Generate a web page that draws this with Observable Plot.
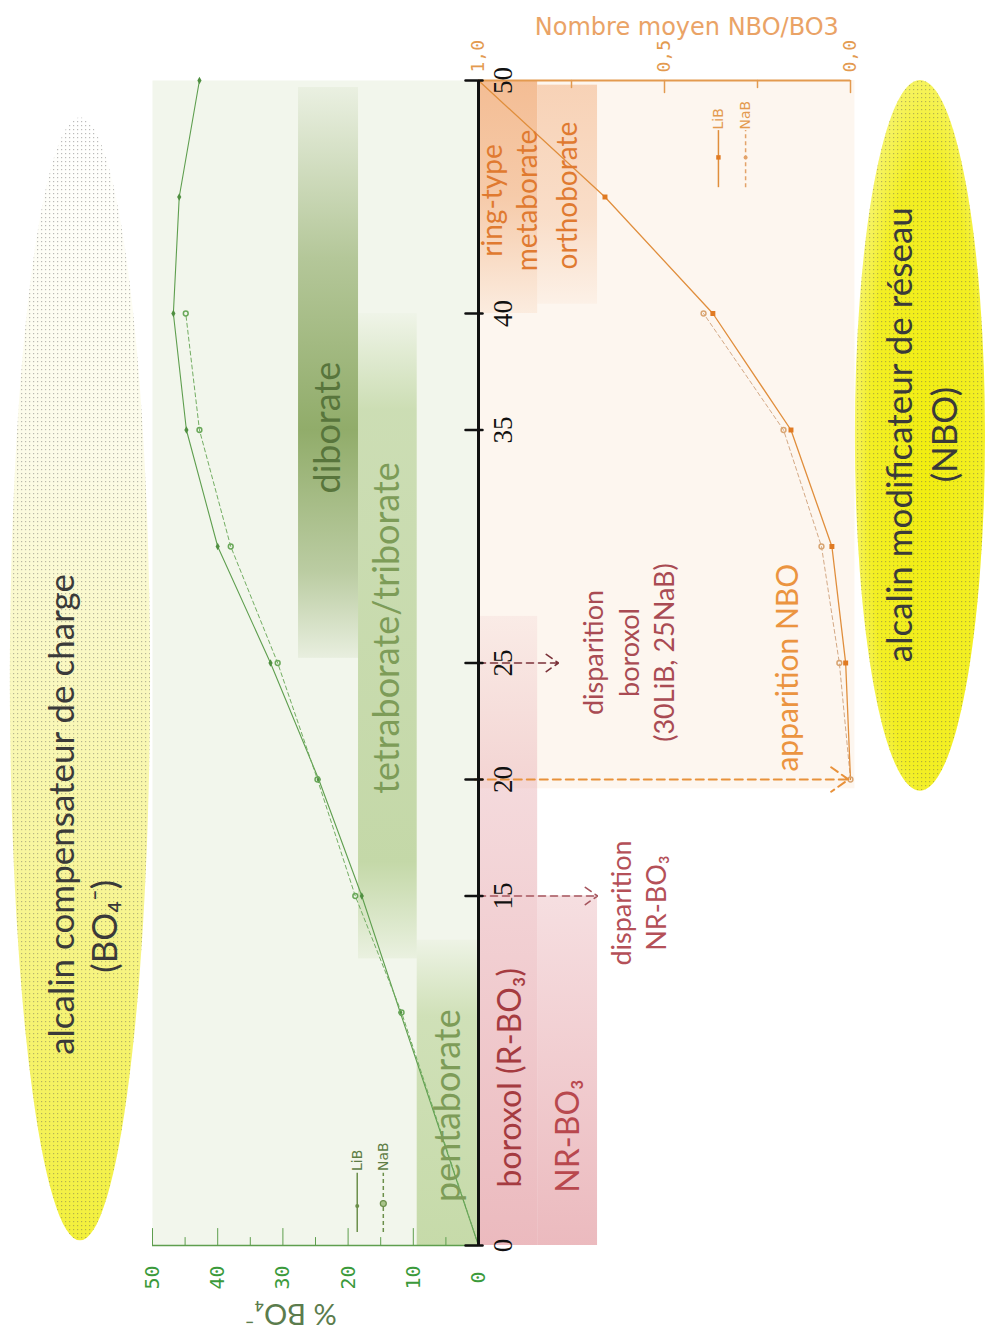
<!DOCTYPE html>
<html><head><meta charset="utf-8">
<script src="https://cdn.jsdelivr.net/npm/d3@7"></script>
<script src="https://cdn.jsdelivr.net/npm/@observablehq/plot@0.6"></script>
<style>
html,body{margin:0;padding:0;background:#fff;}
#wrap{position:relative;width:986px;height:1336px;overflow:hidden;background:#fff;}
#wrap > svg{position:absolute;left:0;top:0;}
</style></head><body>
<svg width="0" height="0" style="position:absolute;left:0;top:0">
<defs>
 <linearGradient id="gEllL" x1="0" y1="0" x2="0" y2="1">
   <stop offset="0" stop-color="#ffffff"/>
   <stop offset="0.3" stop-color="#fcfbe8"/>
   <stop offset="0.65" stop-color="#f8f6a0"/>
   <stop offset="1" stop-color="#f3f03a"/>
 </linearGradient>
 <radialGradient id="gEllR" cx="0.55" cy="0.55" r="0.62">
   <stop offset="0" stop-color="#f2ee10"/>
   <stop offset="0.7" stop-color="#f3ef24"/>
   <stop offset="1" stop-color="#f8f680"/>
 </radialGradient>
 <pattern id="dots" width="4" height="4" patternUnits="userSpaceOnUse">
   <rect x="1" y="1" width="1.2" height="1.2" fill="#555" fill-opacity="0.4"/>
 </pattern>
 <linearGradient id="gDi" x1="0" y1="0" x2="0" y2="1">
   <stop offset="0" stop-color="#8eaa66" stop-opacity="0.08"/>
   <stop offset="0.3" stop-color="#8eaa66" stop-opacity="0.62"/>
   <stop offset="0.6" stop-color="#8eaa66" stop-opacity="0.97"/>
   <stop offset="0.85" stop-color="#8eaa66" stop-opacity="0.55"/>
   <stop offset="1" stop-color="#8eaa66" stop-opacity="0.1"/>
 </linearGradient>
 <linearGradient id="gTet" x1="0" y1="0" x2="0" y2="1">
   <stop offset="0" stop-color="#bcd39c" stop-opacity="0.05"/>
   <stop offset="0.15" stop-color="#bcd39c" stop-opacity="0.7"/>
   <stop offset="0.85" stop-color="#bcd39c" stop-opacity="0.85"/>
   <stop offset="1" stop-color="#bcd39c" stop-opacity="0.15"/>
 </linearGradient>
 <linearGradient id="gPen" x1="0" y1="0" x2="0" y2="1">
   <stop offset="0" stop-color="#c4d9a6" stop-opacity="0.1"/>
   <stop offset="0.25" stop-color="#c4d9a6" stop-opacity="0.75"/>
   <stop offset="1" stop-color="#c4d9a6" stop-opacity="0.95"/>
 </linearGradient>
 <linearGradient id="gMeta" x1="0" y1="0" x2="0" y2="1">
   <stop offset="0" stop-color="#f2b384" stop-opacity="0.85"/>
   <stop offset="0.5" stop-color="#f2b384" stop-opacity="0.65"/>
   <stop offset="1" stop-color="#f2b384" stop-opacity="0.15"/>
 </linearGradient>
 <linearGradient id="gOrtho" x1="0" y1="0" x2="0" y2="1">
   <stop offset="0" stop-color="#f6c9a8" stop-opacity="0.8"/>
   <stop offset="0.6" stop-color="#f6c9a8" stop-opacity="0.55"/>
   <stop offset="1" stop-color="#f6c9a8" stop-opacity="0.12"/>
 </linearGradient>
 <linearGradient id="gBorox" x1="0" y1="0" x2="0" y2="1">
   <stop offset="0" stop-color="#e8aeb3" stop-opacity="0.15"/>
   <stop offset="0.25" stop-color="#e8aeb3" stop-opacity="0.45"/>
   <stop offset="1" stop-color="#e8aeb3" stop-opacity="0.85"/>
 </linearGradient>
 <linearGradient id="gNR" x1="0" y1="0" x2="0" y2="1">
   <stop offset="0" stop-color="#e8aeb3" stop-opacity="0.4"/>
   <stop offset="1" stop-color="#e8aeb3" stop-opacity="0.85"/>
 </linearGradient>
</defs>
</svg>
<div id="wrap"></div>
<script>
// ---------------- data ----------------
// % BO4- versus mol% alkali oxide
const molLiB = [0, 10, 15, 20, 25, 30, 35, 40, 45, 50];
const bo4LiB = [0, 12.0, 17.9, 24.5, 31.9, 40.0, 44.8, 46.8, 45.9, 42.8];
const molNaB = [0, 10, 15, 20, 25, 30, 35, 40];
const bo4NaB = [0, 11.8, 18.9, 24.7, 30.8, 38.0, 42.8, 44.9];

// mean number of NBO per BO3 versus mol% alkali oxide
const nboMolLiB = [20, 25, 30, 35, 40, 45, 50];
const nboLiB = [0.0, 0.013, 0.05, 0.16, 0.37, 0.66, 1.0];
const nboMolNaB = [20, 25, 30, 35, 40];
const nboNaB = [0.0, 0.03, 0.078, 0.18, 0.395];

// ticks
const molTicks = [0, 15, 20, 25, 35, 40, 50];
const bo4MajorTicks = [0, 10, 20, 30, 40, 50];
const bo4MinorTicks = [5, 15, 25, 35, 45];
const nboMajorTicks = [0, 0.5, 1];
const nboMinorTicks = [0.25, 0.75];
const nboTickLabels = [1, 0.5, 0];

// structural-unit domains (mol% ranges)
const greenUnits = ["diborate", "tetraborate/triborate", "pentaborate"];
const greenMolStart = [25.2, 12.3, 0];
const greenMolEnd = [49.7, 40.0, 13.1];
const orangeUnits = ["ring-type metaborate", "orthoborate"];
const orangeMolStart = [40, 40.4];
const orangeMolEnd = [50, 49.8];
const pinkUnits = ["boroxol (R-BO₃)", "NR-BO₃"];
const pinkMolStart = [0, 0];
const pinkMolEnd = [27, 15];

// transitions (mol%)
const arrowMol = [25, 15, 20];
const arrowNames = ["disparition boroxol", "disparition NR-BO₃", "apparition NBO"];

// ---------------- build ----------------
const libBO4 = molLiB.map((m, i) => ({mol: m, v: bo4LiB[i]}));
const nabBO4 = molNaB.map((m, i) => ({mol: m, v: bo4NaB[i]}));
const libNBO = nboMolLiB.map((m, i) => ({mol: m, v: nboLiB[i]}));
const nabNBO = nboMolNaB.map((m, i) => ({mol: m, v: nboNaB[i]}));

const green = "#5e9e4e";
const orange = "#e39a4f";
const labelFont = "Lato";

const greenCols = [[27.6, 18.4], [18.4, 9.4], [9.4, 0]];
const greenFills = ["url(#gDi)", "url(#gTet)", "url(#gPen)"];
const orangeCols = [[1, 0.841], [0.841, 0.68]];
const orangeFills = ["url(#gMeta)", "url(#gOrtho)"];
const pinkCols = [[1, 0.841], [0.841, 0.68]];
const pinkFills = ["url(#gBorox)", "url(#gNR)"];

// tick shapes for Plot.vector
const tickUp = {draw(c, l) { c.moveTo(0, 0); c.lineTo(0, -l); }};
const tickDown = {draw(c, l) { c.moveTo(0, 0); c.lineTo(0, l); }};
const tickLeft = {draw(c, l) { c.moveTo(4, 0); c.lineTo(-l, 0); }};

const common = {
  width: 986, height: 1336, marginTop: 80, marginBottom: 91,
  y: {domain: [0, 50], axis: null},
  style: {background: "transparent", overflow: "visible"}
};

const greenBandMarks = greenUnits.map((u, i) => Plot.rect([u], {
  x1: greenCols[i][0], x2: greenCols[i][1], y1: greenMolStart[i], y2: greenMolEnd[i], fill: greenFills[i]
}));
const orangeBandMarks = orangeUnits.map((u, i) => Plot.rect([u], {
  x1: orangeCols[i][0], x2: orangeCols[i][1], y1: orangeMolStart[i], y2: orangeMolEnd[i], fill: orangeFills[i]
}));
const pinkBandMarks = pinkUnits.map((u, i) => Plot.rect([u], {
  x1: pinkCols[i][0], x2: pinkCols[i][1], y1: pinkMolStart[i], y2: pinkMolEnd[i], fill: pinkFills[i]
}));

const lbl = (t, o) => Plot.text([t], {text: d => d, rotate: -90, textAnchor: "middle", lineAnchor: "middle", fontFamily: labelFont, ...o});

const plotA = Plot.plot({
  ...common,
  marginLeft: 152, marginRight: 508,
  x: {domain: [50, 0], axis: null},
  marks: [
    Plot.rect(["BO4 ellipse"], {x1: 71.8, x2: 50.3, y1: 0.2, y2: 48.4, fill: "url(#gEllL)", rx: 1000, ry: 1000}),
    Plot.rect(["BO4 ellipse"], {x1: 71.8, x2: 50.3, y1: 0.2, y2: 48.4, fill: "url(#dots)", rx: 1000, ry: 1000}),
    Plot.frame({fill: "#f2f6ec", stroke: "none"}),
    greenBandMarks,
    Plot.line(libBO4, {x: "v", y: "mol", stroke: green, strokeWidth: 1.1}),
    Plot.line(nabBO4, {x: "v", y: "mol", stroke: "#72ad62", strokeWidth: 1, strokeDasharray: "4,3"}),
    Plot.dot(libBO4.filter(d => d.mol > 0), {x: "v", y: "mol", r: 2.2, symbol: "diamond", fill: "#4f8f40"}),
    Plot.dot(nabBO4.filter(d => d.mol > 0), {x: "v", y: "mol", r: 2.4, stroke: "#6aa85a", fill: "none"}),
    // % BO4 axis (bottom)
    Plot.ruleY([0], {stroke: green, strokeWidth: 1.5}),
    Plot.vector(bo4MajorTicks, {x: d => d, frameAnchor: "bottom", length: 17, anchor: "start", shape: tickUp, stroke: green, strokeWidth: 1}),
    Plot.vector(bo4MinorTicks, {x: d => d, frameAnchor: "bottom", length: 8, anchor: "start", shape: tickUp, stroke: green, strokeWidth: 1}),
    Plot.text(bo4MajorTicks, {x: d => d, text: d => String(d), frameAnchor: "bottom", dy: 32, rotate: -90,
      textAnchor: "middle", lineAnchor: "middle", fontFamily: "DejaVu Sans Mono", fontSize: 20, fill: "#3b9a3b"}),
    Plot.text(["% BO₄⁻"], {x: 28.8, text: d => d, frameAnchor: "bottom", dy: 68, rotate: 180,
      textAnchor: "middle", lineAnchor: "middle", fontFamily: labelFont, fontSize: 29, fill: "#5b7c4d"}),
    // legend
    Plot.ruleX([18.6], {y1: 0.56, y2: 3.1, stroke: "#6b8f4a", strokeWidth: 1.5}),
    Plot.dot([18.6], {x: d => d, y: 1.7, r: 2, fill: "#6b8f4a"}),
    Plot.text(["LiB"], {x: 18.6, y: 3.2, text: d => d, rotate: -90, textAnchor: "start", lineAnchor: "middle", fontFamily: "DejaVu Sans", fontSize: 14, fill: "#5e7d45"}),
    Plot.ruleX([14.6], {y1: 0.56, y2: 3.1, stroke: "#6b8f4a", strokeWidth: 1.5, strokeDasharray: "4,3"}),
    Plot.dot([14.6], {x: d => d, y: 1.8, r: 3, stroke: "#6b8f4a", fill: "#a9c48a", strokeWidth: 1.2}),
    Plot.text(["NaB"], {x: 14.6, y: 3.2, text: d => d, rotate: -90, textAnchor: "start", lineAnchor: "middle", fontFamily: "DejaVu Sans", fontSize: 14, fill: "#5e7d45"}),
    // band labels
    lbl("diborate", {x: 23.0, y: 35.1, fontSize: 36, fill: "#58753c"}),
    lbl("tetraborate/triborate", {x: 13.9, y: 26.5, fontSize: 36, fill: "#7d9c58"}),
    lbl("pentaborate", {x: 4.6, y: 6.0, fontSize: 36, fill: "#7d9c58"}),
    // ellipse labels
    lbl("alcalin compensateur de charge", {x: 63.8, y: 18.5, fontSize: 35, fill: "#3a3a3a"}),
    lbl("(BO₄⁻)", {x: 57.2, y: 13.7, fontSize: 35, fill: "#3a3a3a"})
  ]
});

const plotB = Plot.plot({
  ...common,
  marginLeft: 478, marginRight: 136,
  x: {domain: [1, 0], axis: null},
  marks: [
    Plot.rect(["NBO ellipse"], {x1: -0.013, x2: -0.363, y1: 19.5, y2: 50, fill: "url(#gEllR)", rx: 1000, ry: 1000}),
    Plot.rect(["NBO ellipse"], {x1: -0.013, x2: -0.363, y1: 19.5, y2: 50, fill: "url(#dots)", rx: 1000, ry: 1000}),
    Plot.rect(["NBO panel"], {x1: 1, x2: -0.012, y1: 19.6, y2: 50, fill: "#fdf6ef"}),
    orangeBandMarks,
    pinkBandMarks,
    Plot.line(nabNBO, {x: "v", y: "mol", stroke: "#d4a985", strokeWidth: 1, strokeDasharray: "4,3"}),
    Plot.line(libNBO, {x: "v", y: "mol", stroke: "#e08e3c", strokeWidth: 1.3}),
    Plot.dot(nabNBO, {x: "v", y: "mol", r: 2.4, stroke: "#d9a572", fill: "none"}),
    Plot.dot(libNBO.filter(d => d.mol > 20 && d.mol < 50), {x: "v", y: "mol", r: 2.8, symbol: "square", fill: "#e07a22"}),
    // NBO axis (top)
    Plot.ruleY([50], {stroke: orange, strokeWidth: 2}),
    Plot.vector(nboMajorTicks, {x: d => d, frameAnchor: "top", length: 12, anchor: "start", shape: tickDown, stroke: orange, strokeWidth: 1.5}),
    Plot.vector(nboMinorTicks, {x: d => d, frameAnchor: "top", length: 7, anchor: "start", shape: tickDown, stroke: orange, strokeWidth: 1.5}),
    Plot.text(nboTickLabels, {x: d => d, text: d => d3.format(".1f")(d).replace(".", ","), frameAnchor: "top", dy: -8,
      rotate: -90, textAnchor: "start", lineAnchor: "middle", fontFamily: "DejaVu Sans Mono", fontSize: 18, fill: orange}),
    Plot.text(["Nombre moyen NBO/BO3"], {x: 0.44, text: d => d, frameAnchor: "top", dy: -53,
      textAnchor: "middle", lineAnchor: "middle", fontFamily: "DejaVu Sans", fontSize: 24, fill: "#eaa366"}),
    // legend
    Plot.ruleX([0.355], {y1: 45.4, y2: 47.85, stroke: "#e08e3c", strokeWidth: 1.5}),
    Plot.dot([0.355], {x: d => d, y: 46.7, r: 2.5, symbol: "square", fill: "#e07a22"}),
    Plot.text(["LiB"], {x: 0.355, y: 47.9, text: d => d, rotate: -90, textAnchor: "start", lineAnchor: "middle", fontFamily: "DejaVu Sans", fontSize: 14, fill: "#e39a4f"}),
    Plot.ruleX([0.282], {y1: 45.4, y2: 47.85, stroke: "#e3a36a", strokeWidth: 1.5, strokeDasharray: "4,3"}),
    Plot.dot([0.282], {x: d => d, y: 46.7, r: 2, fill: "#e3a36a"}),
    Plot.text(["NaB"], {x: 0.282, y: 47.9, text: d => d, rotate: -90, textAnchor: "start", lineAnchor: "middle", fontFamily: "DejaVu Sans", fontSize: 14, fill: "#e39a4f"}),
    // transitions
    Plot.arrow([arrowNames[0]], {x1: 1, x2: 0.785, y1: arrowMol[0], y2: arrowMol[0], stroke: "#7a3038", strokeWidth: 1.6, strokeDasharray: "7,5", headLength: 14, headAngle: 70}),
    Plot.arrow([arrowNames[1]], {x1: 1, x2: 0.68, y1: arrowMol[1], y2: arrowMol[1], stroke: "#a5545c", strokeWidth: 1.6, strokeDasharray: "7,5", headLength: 14, headAngle: 70}),
    Plot.arrow([arrowNames[2]], {x1: 1.01, x2: 0.005, y1: arrowMol[2], y2: arrowMol[2], stroke: "#e8913a", strokeWidth: 2, strokeDasharray: "8,5", headLength: 16, headAngle: 70}),
    // central composition axis
    Plot.ruleX([1], {stroke: "#111", strokeWidth: 3}),
    Plot.vector(molTicks, {y: d => d, frameAnchor: "left", length: 13, anchor: "start", shape: tickLeft, stroke: "#111", strokeWidth: 2.5}),
    Plot.text(molTicks, {y: d => d, text: d => String(d), frameAnchor: "left", dx: 14, rotate: -90,
      textAnchor: "middle", lineAnchor: "top", fontFamily: "Liberation Serif", fontSize: 27, fill: "#111"}),
    // unit labels
    lbl("ring-type", {x: 0.96, y: 44.85, fontSize: 28, fill: "#e07a30"}),
    lbl("metaborate", {x: 0.868, y: 44.85, fontSize: 28, fill: "#e07a30"}),
    lbl("orthoborate", {x: 0.758, y: 45.06, fontSize: 28, fill: "#e07a30"}),
    lbl("boroxol (R-BO₃)", {x: 0.914, y: 7.2, fontSize: 32, fill: "#a53b40"}),
    lbl("NR-BO₃", {x: 0.758, y: 4.7, fontSize: 32, fill: "#b8484e"}),
    lbl("disparition\nboroxol\n(30LiB, 25NaB)", {x: 0.6, y: 25.45, fontSize: 27, lineHeight: 1.3, fill: "#a94b53"}),
    lbl("disparition\nNR-BO₃", {x: 0.573, y: 14.7, fontSize: 27, lineHeight: 1.3, fill: "#b45058"}),
    lbl("apparition NBO", {x: 0.167, y: 24.8, fontSize: 30, fill: "#eb9440"}),
    lbl("alcalin modificateur de réseau", {x: -0.134, y: 34.8, fontSize: 35, fill: "#3a3a3a"}),
    lbl("(NBO)", {x: -0.255, y: 34.8, fontSize: 35, fill: "#3a3a3a"})
  ]
});

const wrap = document.getElementById("wrap");
wrap.appendChild(plotA);
wrap.appendChild(plotB);
</script>
</body></html>
